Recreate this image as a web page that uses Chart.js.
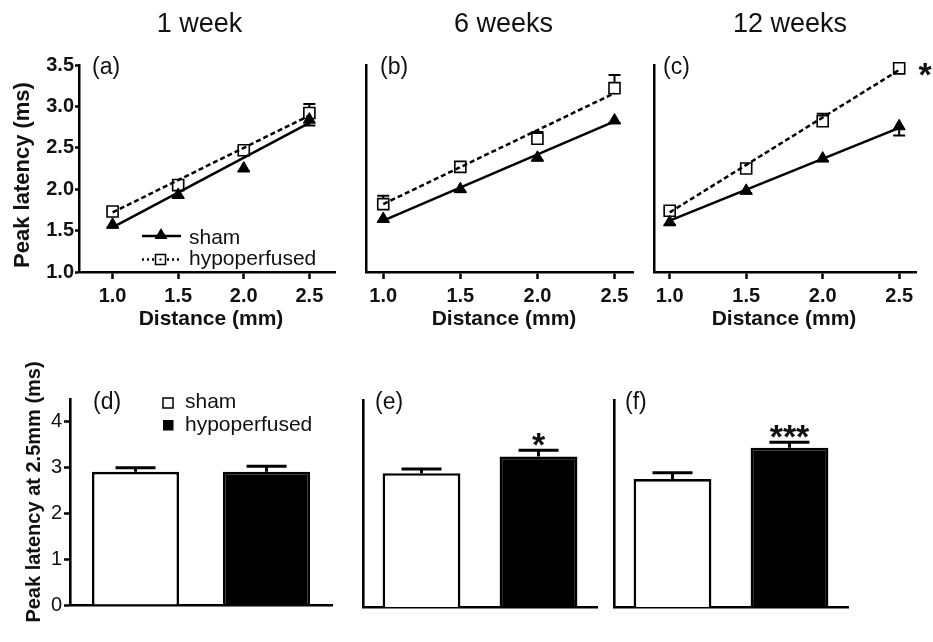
<!DOCTYPE html>
<html>
<head>
<meta charset="utf-8">
<script src="https://cdn.jsdelivr.net/npm/chart.js@4.4.0/dist/chart.umd.min.js"></script>
<style>
  html, body { margin: 0; padding: 0; background: #fff; }
  body { width: 933px; height: 642px; position: relative; overflow: hidden; }
  canvas { position: absolute; }
</style>
</head>
<body>
<canvas id="pa"></canvas>
<canvas id="pb"></canvas>
<canvas id="pc"></canvas>
<canvas id="pd"></canvas>
<canvas id="pe"></canvas>
<canvas id="pf"></canvas>
<script>
// ---------- data ----------
const weeks = ['1 week', '6 weeks', '12 weeks'];
const distance = [1.0, 1.5, 2.0, 2.5];
const xTicksTop = [1.0, 1.5, 2.0, 2.5];
const yTicksTop = [1.0, 1.5, 2.0, 2.5, 3.0, 3.5];
const yTicksBar = [0, 1, 2, 3, 4];
const groups = ['sham', 'hypoperfused'];
const fitX = [1.0, 2.5];

// (a) 1 week
const shamA = [1.57, 1.93, 2.25, 2.84];
const shamErrA = [0.03, 0.03, 0.03, 0.07];
const hypoA = [1.73, 2.05, 2.47, 2.92];
const hypoErrA = [0.03, 0.03, 0.03, 0.11];
const shamFitA = [1.54, 2.80];
const hypoFitA = [1.72, 2.89];
// (b) 6 weeks
const shamB = [1.64, 2.00, 2.38, 2.83];
const shamErrB = [0.03, 0.03, 0.03, 0.03];
const hypoB = [1.82, 2.27, 2.61, 3.22];
const hypoErrB = [0.10, 0.04, 0.08, 0.16];
const shamFitB = [1.62, 2.82];
const hypoFitB = [1.82, 3.16];
// (c) 12 weeks
const shamC = [1.60, 1.98, 2.37, 2.76];
const shamErrC = [0.03, 0.03, 0.03, 0.11];
const hypoC = [1.74, 2.25, 2.82, 3.46];
const hypoErrC = [0.03, 0.05, 0.09, 0.03];
const shamFitC = [1.62, 2.74];
const hypoFitC = [1.72, 3.44];
// (d)(e)(f) peak latency at 2.5 mm
const barD = [2.91, 2.91];
const barErrD = [0.09, 0.12];
const barE = [2.91, 3.27];
const barErrE = [0.09, 0.14];
const barF = [2.78, 3.46];
const barErrF = [0.14, 0.12];

// ---------- helpers ----------
const FAM = '"Liberation Sans", Arial, Helvetica, sans-serif';
const INK = '#111';

function fixBox(prop, v) {
  return function (s) {
    s[prop] = v;
    s.paddingLeft = 0; s.paddingRight = 0; s.paddingTop = 0; s.paddingBottom = 0;
  };
}

function overlay(ox, oy, texts, extra) {
  return {
    id: 'overlay',
    afterDraw(chart) {
      const ctx = chart.ctx;
      ctx.save();
      if (extra) extra(chart, ctx, ox, oy);
      for (const t of texts) {
        let x = t.x, y = t.y;
        if (t.anchor) {
          const xs = chart.scales.x, ys = chart.scales.y;
          x = xs.getPixelForValue(t.anchor.x) + ox + (t.dx || 0);
          y = ys.getPixelForValue(t.anchor.y) + oy + (t.dy || 0);
        }
        ctx.save();
        ctx.font = t.font;
        ctx.fillStyle = INK;
        ctx.textAlign = t.align || 'left';
        ctx.textBaseline = t.base || 'alphabetic';
        ctx.translate(x - ox, y - oy);
        if (t.rot) ctx.rotate(t.rot);
        ctx.fillText(t.t, 0, 0);
        ctx.restore();
      }
      ctx.restore();
    }
  };
}

function errPlugin(items, cap, lw) {
  return {
    id: 'errbars',
    beforeDatasetsDraw(chart) {
      const ctx = chart.ctx, xs = chart.scales.x, ys = chart.scales.y;
      ctx.save();
      ctx.strokeStyle = '#000';
      ctx.lineWidth = lw;
      ctx.setLineDash([]);
      for (const it of items) {
        it.vals.forEach((v, i) => {
          const px = xs.getPixelForValue(it.xs[i]);
          const p0 = ys.getPixelForValue(v);
          const p1 = ys.getPixelForValue(v + it.dir * it.errs[i]);
          ctx.beginPath();
          ctx.moveTo(px, p0); ctx.lineTo(px, p1);
          ctx.moveTo(px - cap / 2, p1); ctx.lineTo(px + cap / 2, p1);
          ctx.stroke();
        });
      }
      ctx.restore();
    }
  };
}

function place(id, box) {
  const cv = document.getElementById(id);
  cv.width = box.w; cv.height = box.h;
  cv.style.left = box.x + 'px'; cv.style.top = box.y + 'px';
  cv.style.width = box.w + 'px'; cv.style.height = box.h + 'px';
  return cv;
}

function linePanel(id, o) {
  const b = o.box, a = o.area;
  const cv = place(id, b);
  const yW = a.l - b.x, xH = b.y + b.h - a.b;
  new Chart(cv, {
    type: 'scatter',
    data: {
      datasets: [
        { data: fitX.map((x, i) => ({ x, y: o.shamFit[i] })), showLine: true, borderColor: '#000', borderWidth: 2.5, pointRadius: 0, clip: false },
        { data: fitX.map((x, i) => ({ x, y: o.hypoFit[i] })), showLine: true, borderColor: '#000', borderWidth: 2.5, borderDash: [5, 3], pointRadius: 0, clip: false },
        { data: distance.map((x, i) => ({ x, y: o.sham[i] })), showLine: false, pointStyle: 'triangle', pointRadius: 7, backgroundColor: '#000', borderColor: '#000', borderWidth: 1, clip: false },
        { data: distance.map((x, i) => ({ x, y: o.hypo[i] })), showLine: false, pointStyle: 'rect', pointRadius: 7.8, backgroundColor: '#fff', borderColor: '#000', borderWidth: 1.6, clip: false }
      ]
    },
    options: {
      responsive: false, animation: false, events: [], devicePixelRatio: 1,
      layout: { padding: { left: 0, top: a.t - b.y, right: b.x + b.w - a.r, bottom: 0 } },
      plugins: { legend: { display: false }, tooltip: { enabled: false } },
      scales: {
        x: {
          type: 'linear', min: o.xMin, max: o.xMax, bounds: 'data',
          afterBuildTicks: s => { s.ticks = xTicksTop.map(v => ({ value: v })); },
          afterFit: fixBox('height', xH),
          ticks: { color: INK, padding: 5, maxRotation: 0, autoSkip: false, font: { family: FAM, weight: 'bold', size: 20 }, callback: v => Number(v).toFixed(1) },
          grid: { display: true, drawOnChartArea: false, drawTicks: true, tickLength: 7, tickWidth: 2.5, tickColor: '#000' },
          border: { display: true, color: '#000', width: 2.5 }
        },
        y: {
          type: 'linear', min: 1.0, max: 3.5, bounds: 'data',
          afterBuildTicks: s => { s.ticks = yTicksTop.map(v => ({ value: v })); },
          afterFit: fixBox('width', yW),
          ticks: { display: o.showY, color: INK, padding: 1, autoSkip: false, font: { family: FAM, weight: 'bold', size: 20 }, callback: v => Number(v).toFixed(1) },
          grid: { display: o.showY, drawOnChartArea: false, drawTicks: true, tickLength: 4, tickWidth: 2.5, tickColor: '#000' },
          border: { display: true, color: '#000', width: 2.5 }
        }
      }
    },
    plugins: [
      errPlugin([
        { xs: distance, vals: o.hypo, errs: o.hypoErr, dir: 1 },
        { xs: distance, vals: o.sham, errs: o.shamErr, dir: -1 }
      ], 12, 2),
      overlay(b.x, b.y, o.texts, o.extra)
    ]
  });
}

function barPanel(id, o) {
  const b = o.box, a = o.area;
  const cv = place(id, b);
  const yW = a.l - b.x, xH = b.y + b.h - a.b;
  new Chart(cv, {
    type: 'bar',
    data: {
      labels: groups,
      datasets: [{
        data: o.vals, backgroundColor: ['#fff', '#000'], borderColor: '#000', borderWidth: 2.6,
        barPercentage: 0.665, categoryPercentage: 1.0, clip: false
      }]
    },
    options: {
      responsive: false, animation: false, events: [], devicePixelRatio: 1,
      layout: { padding: { left: 0, top: a.t - b.y, right: b.x + b.w - a.r, bottom: 0 } },
      plugins: { legend: { display: false }, tooltip: { enabled: false } },
      scales: {
        x: {
          type: 'category',
          afterFit: fixBox('height', xH),
          ticks: { display: false },
          grid: { display: false },
          border: { display: true, color: '#000', width: 2.6 }
        },
        y: {
          type: 'linear', min: 0, max: 4.5, bounds: 'data',
          afterBuildTicks: s => { s.ticks = yTicksBar.map(v => ({ value: v })); },
          afterFit: fixBox('width', yW),
          ticks: { display: o.showY, color: INK, padding: 2, autoSkip: false, font: { family: FAM, size: 20 } },
          grid: { display: o.showY, drawOnChartArea: false, drawTicks: true, tickLength: 6, tickWidth: 2.5, tickColor: '#000' },
          border: { display: true, color: '#000', width: 2.6 }
        }
      }
    },
    plugins: [
      errPlugin([{ xs: [0, 1], vals: o.vals, errs: o.errs, dir: 1 }], 40, 3),
      overlay(b.x, b.y, o.texts, o.extra)
    ]
  });
}

const fTitle = '27px ' + FAM;
const fPanel = '23px ' + FAM;
const fAxis = 'bold 21px ' + FAM;
const fLeg = '21px ' + FAM;
const fStar = 'bold 34px ' + FAM;

// legend for line panels (drawn inside panel a)
function lineLegend(chart, ctx, ox, oy) {
  ctx.strokeStyle = '#000';
  ctx.fillStyle = '#000';
  ctx.lineWidth = 2.5;
  ctx.setLineDash([]);
  ctx.beginPath(); ctx.moveTo(142 - ox, 236 - oy); ctx.lineTo(181 - ox, 236 - oy); ctx.stroke();
  ctx.beginPath();
  ctx.moveTo(161 - ox, 228 - oy); ctx.lineTo(167.5 - ox, 239 - oy); ctx.lineTo(154.5 - ox, 239 - oy); ctx.closePath(); ctx.fill();
  ctx.setLineDash([2, 3]);
  ctx.beginPath(); ctx.moveTo(142 - ox, 259.5 - oy); ctx.lineTo(181 - ox, 259.5 - oy); ctx.stroke();
  ctx.setLineDash([]);
  ctx.fillStyle = '#fff';
  ctx.fillRect(155.5 - ox, 254.5 - oy, 10, 10);
  ctx.lineWidth = 1.5;
  ctx.strokeRect(155.5 - ox, 254.5 - oy, 10, 10);
  ctx.fillStyle = '#000';
  ctx.fillRect(159.5 - ox, 258.5 - oy, 2, 2);
}
function barLegend(chart, ctx, ox, oy) {
  ctx.strokeStyle = '#000';
  ctx.lineWidth = 1.5;
  ctx.setLineDash([]);
  ctx.fillStyle = '#fff';
  ctx.fillRect(163 - ox, 398 - oy, 10, 10);
  ctx.strokeRect(163 - ox, 398 - oy, 10, 10);
  ctx.fillStyle = '#000';
  ctx.fillRect(163 - ox, 420 - oy, 10.5, 10.5);
}

linePanel('pa', {
  box: { x: 0, y: 0, w: 345, h: 345 }, area: { l: 79, t: 65, r: 338, b: 272 },
  xMin: 0.744, xMax: 2.70, showY: true,
  sham: shamA, shamErr: shamErrA, hypo: hypoA, hypoErr: hypoErrA, shamFit: shamFitA, hypoFit: hypoFitA,
  texts: [
    { t: weeks[0], x: 199.5, y: 32, font: fTitle, align: 'center' },
    { t: '(a)', x: 92, y: 73.5, font: fPanel },
    { t: 'Peak latency (ms)', x: 22.5, y: 175, font: 'bold 22px ' + FAM, align: 'center', base: 'middle', rot: -Math.PI / 2 },
    { t: 'Distance (mm)', x: 211, y: 319, font: fAxis, align: 'center', base: 'middle' },
    { t: groups[0], x: 189, y: 244, font: fLeg },
    { t: groups[1], x: 189, y: 265, font: fLeg }
  ],
  extra: lineLegend
});

linePanel('pb', {
  box: { x: 345, y: 0, w: 300, h: 345 }, area: { l: 366, t: 65, r: 633, b: 272 },
  xMin: 0.888, xMax: 2.62, showY: false,
  sham: shamB, shamErr: shamErrB, hypo: hypoB, hypoErr: hypoErrB, shamFit: shamFitB, hypoFit: hypoFitB,
  texts: [
    { t: weeks[1], x: 503.5, y: 32, font: fTitle, align: 'center' },
    { t: '(b)', x: 380, y: 73.5, font: fPanel },
    { t: 'Distance (mm)', x: 504, y: 319, font: fAxis, align: 'center', base: 'middle' }
  ]
});

linePanel('pc', {
  box: { x: 645, y: 0, w: 288, h: 345 }, area: { l: 652, t: 65, r: 916, b: 272 },
  xMin: 0.90, xMax: 2.61, showY: false,
  sham: shamC, shamErr: shamErrC, hypo: hypoC, hypoErr: hypoErrC, shamFit: shamFitC, hypoFit: hypoFitC,
  texts: [
    { t: weeks[2], x: 790, y: 32, font: fTitle, align: 'center' },
    { t: '(c)', x: 663, y: 73.5, font: fPanel },
    { t: 'Distance (mm)', x: 784, y: 319, font: fAxis, align: 'center', base: 'middle' },
    { t: '*', anchor: { x: distance[3], y: hypoC[3] }, dx: 26, dy: 18, font: fStar, align: 'center' }
  ]
});

barPanel('pd', {
  box: { x: 0, y: 345, w: 345, h: 297 }, area: { l: 70, t: 399, r: 332, b: 605 },
  showY: true, vals: barD, errs: barErrD,
  texts: [
    { t: '(d)', x: 93, y: 409, font: fPanel },
    { t: 'Peak latency at 2.5mm (ms)', x: 34, y: 492, font: 'bold 20px ' + FAM, align: 'center', base: 'middle', rot: -Math.PI / 2 },
    { t: groups[0], x: 185, y: 408, font: fLeg },
    { t: groups[1], x: 185, y: 431, font: fLeg }
  ],
  extra: barLegend
});

barPanel('pe', {
  box: { x: 345, y: 345, w: 255, h: 297 }, area: { l: 363, t: 400, r: 597, b: 607 },
  showY: false, vals: barE, errs: barErrE,
  texts: [
    { t: '(e)', x: 375, y: 409, font: fPanel },
    { t: '*', anchor: { x: 1, y: barE[1] + barErrE[1] }, dx: 0, dy: 6, font: fStar, align: 'center' }
  ]
});

barPanel('pf', {
  box: { x: 600, y: 345, w: 333, h: 297 }, area: { l: 614, t: 400, r: 848, b: 607 },
  showY: false, vals: barF, errs: barErrF,
  texts: [
    { t: '(f)', x: 625, y: 409, font: fPanel },
    { t: '***', anchor: { x: 1, y: barF[1] + barErrF[1] }, dx: 0, dy: 6, font: fStar, align: 'center' }
  ]
});
</script>
</body>
</html>
